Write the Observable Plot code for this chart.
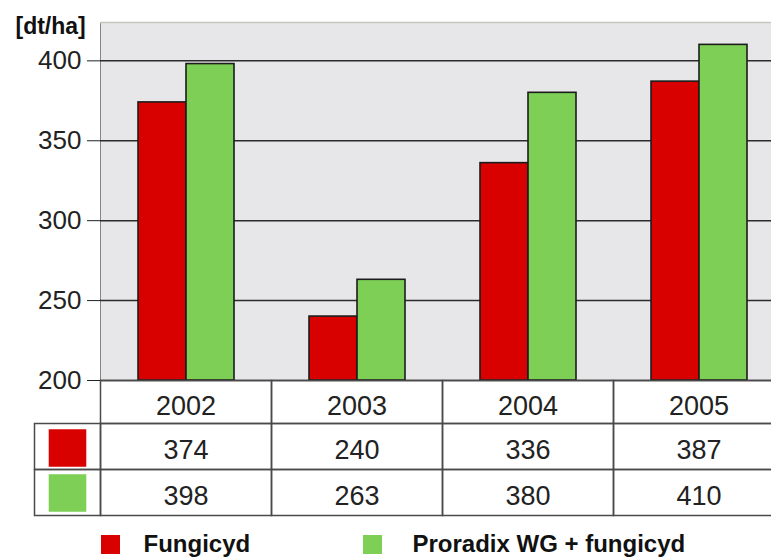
<!DOCTYPE html>
<html><head><meta charset="utf-8">
<script src="https://cdn.jsdelivr.net/npm/d3@7"></script>
<script src="https://cdn.jsdelivr.net/npm/@observablehq/plot@0.6"></script>
<style>html,body{margin:0;padding:0;background:#fff;overflow:hidden;width:771px;height:557px}</style>
</head><body><div id="chart"></div>
<script>
// ---- data ----
const years = ["2002", "2003", "2004", "2005"];
const seriesNames = ["Fungicyd", "Proradix WG + fungicyd"];
const fungicyd = [374, 240, 336, 387];
const proradix = [398, 263, 380, 410];
const yTicks = [200, 250, 300, 350, 400];
const yMax = 424;
const unitLabel = "[dt/ha]";
const colors = ["#d90000", "#7dcf56"];

const seriesValues = [fungicyd, proradix];
const rows = years.flatMap((year, i) =>
  seriesNames.map((series, s) => ({year, series, value: seriesValues[s][i]})));

// ---- layout ----
const W = 784, H = 557, mT = 22, mB = 177, mL = 100, mR = 0;
const plotH = H - mT - mB;
const rowTops = [0, 43, 89];
const rowHs = [43, 46, 46];
const textDy = [34, 78, 124];
const swatchDy = [67.5, 112.5];
const legendDx = [[10, 43], [272, 312]];
const legendDy = 164;
const gridColor = "#2b2b2b";
const tableColor = "#4a4a4a";

const tableFrames = rowTops.map((t, r) => Plot.frame({
  insetTop: plotH + t, insetBottom: -(t + rowHs[r]),
  stroke: tableColor, strokeWidth: 1.5
}));
const legendColFrames = [1, 2].map(r => Plot.frame({
  facet: "super",
  insetLeft: -66, insetRight: W - mL - mR,
  insetTop: plotH + rowTops[r], insetBottom: -(rowTops[r] + rowHs[r]),
  stroke: tableColor, strokeWidth: 1.5
}));

const chart = Plot.plot({
  width: W, height: H,
  marginTop: mT, marginBottom: mB, marginLeft: mL, marginRight: mR,
  style: {fontFamily: "'Liberation Sans', Arial, sans-serif", fontSize: "26px", color: "#222", maxWidth: "none", background: "transparent"},
  fx: {domain: years, padding: 0, axis: null},
  x: {domain: seriesNames, paddingInner: 0, paddingOuter: 0.78, axis: null},
  y: {domain: [yTicks[0], yMax], ticks: yTicks, tickSize: 13, tickPadding: 6, label: null, line: true},
  color: {domain: seriesNames, range: colors},
  marks: [
    Plot.frame({facet: "super", fill: "#e7e7e9", stroke: "none"}),
    Plot.ruleY([yMax], {stroke: "#c6c6c0", strokeWidth: 1.5}),
    Plot.ruleY(yTicks, {stroke: gridColor, strokeWidth: 1.5}),
    Plot.barY(rows, {fx: "year", x: "series", y1: yTicks[0], y2: "value", fill: "series", stroke: "#1c1c1c", strokeWidth: 1.6}),
    ...tableFrames,
    ...legendColFrames,
    Plot.text(years, {fx: d => d, text: d => d, frameAnchor: "bottom", dy: textDy[0], fontSize: 27, fill: "#222"}),
    ...seriesNames.map((s, i) => Plot.text(rows.filter(d => d.series === s), {
      fx: "year", text: d => String(d.value), frameAnchor: "bottom", dy: textDy[i + 1], fontSize: 27, fill: "#222"
    })),
    ...seriesNames.map((s, i) => Plot.dot([s], {
      facet: "super", frameAnchor: "bottom-left", dx: -33, dy: swatchDy[i],
      symbol: "square", r: 21.2, fill: d => d, stroke: "none"
    })),
    ...seriesNames.map((s, i) => Plot.dot([s], {
      facet: "super", frameAnchor: "bottom-left", dx: legendDx[i][0], dy: legendDy,
      symbol: "square", r: 10.7, fill: d => d, stroke: "none"
    })),
    ...seriesNames.map((s, i) => Plot.text([s], {
      facet: "super", frameAnchor: "bottom-left", dx: legendDx[i][1], dy: legendDy + 7,
      text: d => d, textAnchor: "start", fontSize: 24, fontWeight: "bold", fill: "#111"
    })),
    Plot.text([unitLabel], {
      facet: "super", frameAnchor: "top-left", dx: -85, dy: -5,
      text: d => d, textAnchor: "start", fontSize: 23, fontWeight: "bold", fill: "#111"
    })
  ]
});
document.getElementById("chart").appendChild(chart);
</script>
</body></html>
